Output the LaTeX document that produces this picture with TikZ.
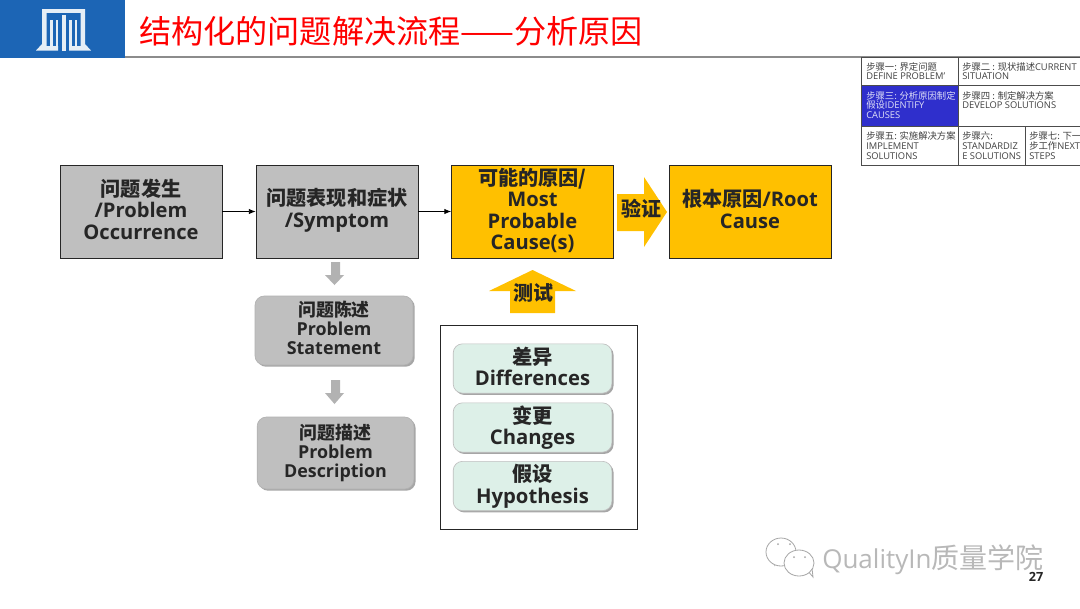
\documentclass[tikz,border=0pt]{standalone}
\usepackage{fontspec}
\setmainfont{Open Sans}
\newfontfamily\cjk{Noto Sans CJK SC}
\usetikzlibrary{shadows,arrows.meta}
\newcommand{\zh}[1]{{\cjk #1}}
\definecolor{logoblue}{HTML}{1C65B5}
\definecolor{logowhite}{HTML}{E6EEF6}
\definecolor{boxgray}{HTML}{BFBFBF}
\definecolor{boxgold}{HTML}{FFC000}
\definecolor{boxgreen}{HTML}{DDF0E8}
\definecolor{cellblue}{HTML}{2F2FCC}
\tikzset{
  x=0.75pt,y=-0.75pt,
  flowbox/.style={draw=black!85,line width=0.6pt,minimum width=121.5pt,minimum height=69.75pt,inner sep=0pt},
  flowtext/.style={inner sep=0pt,align=center,font=\bfseries\fontsize{15.1}{16}\selectfont,text=black!85},
  softbox/.style={rounded corners=7pt,inner sep=0pt,drop shadow={shadow xshift=1.3pt,shadow yshift=-1.3pt,fill=black,opacity=.35}},
  softtext/.style={inner sep=0pt,align=center,text=black!85,font=\bfseries\fontsize{13.4}{14.2}\selectfont},
  graybox/.style={softbox,fill=boxgray,draw=black!30,line width=0.5pt},
  greenbox/.style={softbox,fill=boxgreen,draw=black!25,line width=0.5pt,minimum width=119pt,minimum height=37pt},
  greentext/.style={inner sep=0pt,align=center,text=black!85,font=\bfseries\fontsize{15.2}{16.2}\selectfont},
  flowarrow/.style={-{Latex[length=5pt,width=4pt]},line width=0.6pt,draw=black},
  cell/.style={anchor=north west,inner sep=0pt,align=left,font=\fontsize{7}{7.3}\selectfont,text=black!75},
  cellline/.style={draw=black!70,line width=0.6pt},
  blocktext/.style={font=\bfseries\fontsize{15}{16}\selectfont,text=black!85,inner sep=0pt},
}
\begin{document}
\begin{tikzpicture}
\useasboundingbox (0,0) rectangle (1080,608);
\fill[white] (0,0) rectangle (1080,608);
% header
\draw[black!45,line width=1.3pt] (125,57) -- (1080,57);
\fill[logoblue] (0,0) rectangle (125,58);
\fill[logowhite] (42,9) rectangle (85,13);
\fill[logowhite] (36,50.5) -- (42,44) -- (42,9) -- (46.5,9) -- (46.5,46) -- (58,46) -- (58,50.5) -- cycle;
\fill[logowhite] (91,50.5) -- (85,44) -- (85,9) -- (80.5,9) -- (80.5,46) -- (69,46) -- (69,50.5) -- cycle;
\fill[logowhite] (50,20) rectangle (52.5,46);
\fill[logowhite] (55.5,20) rectangle (58,46);
\fill[logowhite] (69,20) rectangle (71.5,46);
\fill[logowhite] (74.5,20) rectangle (77,46);
\fill[logowhite] (61.5,15) rectangle (65.5,50.5);
\node[anchor=west,inner sep=0pt,text=red,font=\cjk\fontsize{24.1}{27}\selectfont] (title) at (139,31) {结构化的问题解决流程——分析原因};
% step table
\fill[cellblue] (861,85) rectangle (958,126);
\draw[cellline] (861,57) -- (1080,57);
\draw[cellline] (861,165) -- (1080,165);
\draw[cellline] (861,85) -- (1080,85);
\draw[cellline] (861,126) -- (1080,126);
\draw[cellline] (861,57) -- (861,165);
\draw[cellline] (958,57) -- (958,165);
\draw[cellline] (1025,126) -- (1025,165);
\node[cell] (s1) at (866,62) {\zh{步骤一: 界定问题}\\DEFINE PROBLEM'};
\node[cell] (s2) at (962,62) {\zh{步骤二 : 现状描述}CURRENT\\SITUATION};
\node[cell,text=white!85!cellblue] (s3) at (866,91) {\zh{步骤三: 分析原因制定}\\\zh{假设}IDENTIFY\\CAUSES};
\node[cell] (s4) at (962,91) {\zh{步骤四 : 制定解决方案}\\DEVELOP SOLUTIONS};
\node[cell] (s5) at (866,131.5) {\zh{步骤五: 实施解决方案}\\IMPLEMENT\\SOLUTIONS};
\node[cell] (s6) at (962,131.5) {\zh{步骤六:}\\STANDARDIZ\\E SOLUTIONS};
\node[cell] (s7) at (1029,131.5) {\zh{步骤七: 下一}\\\zh{步工作}NEXT\\STEPS};
% main flow
\node[flowbox,fill=boxgray] (a) at (141,211.5) {};
\node[flowtext] (at) at ([yshift=1.7pt]a.center) {\zh{问题发生}\\/Problem\\Occurrence};
\node[flowbox,fill=boxgray] (b) at (337,211.5) {};
\node[flowtext] (bt) at ([yshift=1pt]b.center) {\zh{问题表现和症状}\\/Symptom};
\node[flowbox,fill=boxgold] (c) at (532.5,211.5) {};
\node[flowtext] (ct) at ([yshift=0.8pt]c.center) {\zh{可能的原因/}\\Most\\Probable\\Cause(s)};
\node[flowbox,fill=boxgold] (d) at (750,211.5) {};
\node[flowtext] (dt) at ([yshift=2pt]d.center) {\zh{根本原因}/Root\\Cause};
\draw[flowarrow] (a) -- (b);
\draw[flowarrow] (b) -- (c);
% block arrows
\fill[boxgold] (617,194) -- (644,194) -- (644,177) -- (667,212) -- (644,247) -- (644,231) -- (617,231) -- cycle;
\node[blocktext] (verify) at (641,209) {\zh{验证}};
\fill[boxgold] (510,313) -- (510,291) -- (489,291) -- (532.5,270) -- (576,291) -- (555,291) -- (555,313) -- cycle;
\node[blocktext] (test) at (533,293) {\zh{测试}};
\fill[black!30] (331,262) -- (340,262) -- (340,275) -- (344,275) -- (334.5,285) -- (325,275) -- (331,275) -- cycle;
\fill[black!30] (331,380) -- (340,380) -- (340,393) -- (344,393) -- (334.5,404) -- (325,393) -- (331,393) -- cycle;
% left column
\node[graybox,minimum width=118.5pt,minimum height=51.75pt] (stmt) at (334,330.5) {};
\node[softtext] (stmtt) at ([yshift=2pt]stmt.center) {\zh{问题陈述}\\Problem\\Statement};
\node[graybox,minimum width=117.5pt,minimum height=54pt] (desc) at (335.5,453) {};
\node[softtext] (desct) at (desc.center) {\zh{问题描述}\\Problem\\Description};
% test frame
\node[draw=black!85,line width=0.6pt,fill=white,minimum width=147.75pt,minimum height=153pt,inner sep=0pt] (frame) at (538.5,427) {};
\node[greenbox] (diff) at (532.5,368.5) {};
\node[greentext] (difft) at ([yshift=1.5pt]diff.center) {\zh{差异}\\Differences};
\node[greenbox] (chg) at (532.5,427.5) {};
\node[greentext] (chgt) at (chg.center) {\zh{变更}\\Changes};
\node[greenbox] (hyp) at (532.5,486) {};
\node[greentext] (hypt) at (hyp.center) {\zh{假设}\\Hypothesis};
% watermark
\begin{scope}[draw=black!35,fill=white,line width=0.6pt]
  \filldraw (784,558) -- (775,565) -- (778,558) -- cycle;
  \draw[fill=white] (781,552) ellipse (15 and 14);
  \filldraw (807,570) -- (813,577) -- (812,568) -- cycle;
  \draw[fill=white] (799,563) ellipse (15 and 13);
  \fill[black!35] (778,544) circle (1) (790,544) circle (1) (794,557) circle (1) (805,557) circle (1);
\end{scope}
\node[anchor=west,inner sep=0pt,text=black!28,font=\fontsize{19.5}{22}\selectfont] (mark) at (822,560) {QualityIn{\cjk\fontsize{21}{22}\selectfont 质量学院}};
\node[inner sep=0pt,text=black!85,font=\bfseries\fontsize{9.5}{11}\selectfont] (page) at (1036,577) {27};
\end{tikzpicture}
\end{document}
